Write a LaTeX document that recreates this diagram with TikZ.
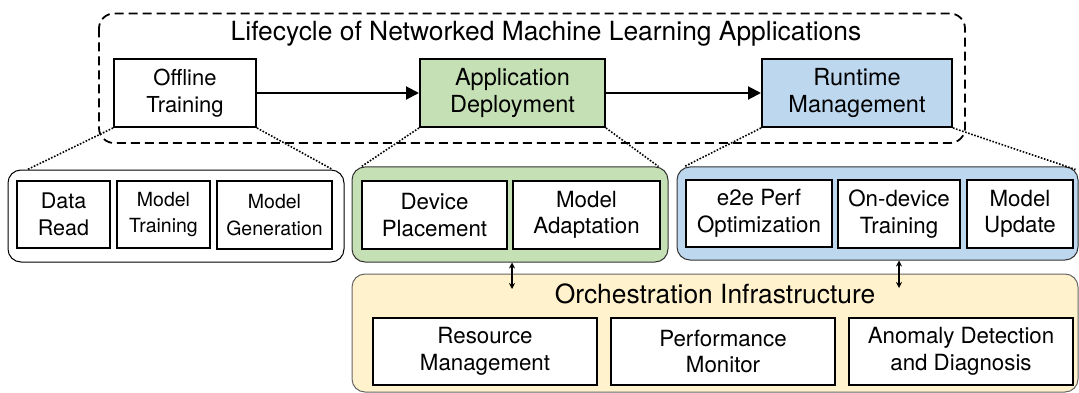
\documentclass[tikz,border=0pt]{standalone}
\usepackage{fontspec}
\setmainfont{TeX Gyre Heros}
\usetikzlibrary{calc,arrows.meta}
\definecolor{gfill}{HTML}{C5E0B4}
\definecolor{bfill}{HTML}{BDD7EE}
\definecolor{yfill}{HTML}{FFF2CC}
\tikzset{
  topbox/.style={draw=black, line width=2pt, align=center, inner sep=0pt},
  innerbox/.style={draw=black, line width=2.4pt, fill=white, align=center, inner sep=0pt},
  container/.style={draw=black!80, line width=1pt, rounded corners=13pt},
  dotline/.style={line width=1.6pt, dash pattern=on 1.6pt off 1.6pt},
  mainarrow/.style={line width=2pt, -{Triangle[length=13pt,width=13pt]}},
  duarrow/.style={line width=1.8pt, {Stealth[length=6pt,width=6pt]}-{Stealth[length=6pt,width=6pt]}},
  fa/.style={font=\fontsize{22.3}{26.5}\selectfont},
  fb/.style={font=\fontsize{19.5}{26.5}\selectfont},
  fc/.style={font=\fontsize{21.5}{26.7}\selectfont},
  ft/.style={font=\fontsize{23.5}{26.5}\selectfont},
  fh/.style={font=\fontsize{26.4}{30}\selectfont},
}
\begin{document}
\begin{tikzpicture}[x=1pt,y=-1pt]
\useasboundingbox (0,0) rectangle (1079,393);
% outer dashed lifecycle box
\draw[line width=1.8pt, dash pattern=on 9pt off 5pt, rounded corners=15pt] (99,13.5) rectangle (965,143);
\node[fh, anchor=base] (title) at (546,41) {Lifecycle of Networked Machine Learning Applications};
% top stage boxes
\node[topbox, font=\fontsize{22}{27}\selectfont, minimum width=142pt, minimum height=68pt] (offline) at (185,93) {Offline\\Training};
\node[topbox, ft, fill=gfill, minimum width=185pt, minimum height=68pt] (app) at (512.5,93) {Application\\Deployment};
\node[topbox, ft, fill=bfill, minimum width=190pt, minimum height=68pt] (runtime) at (857,93) {Runtime\\Management};
\draw[mainarrow] (offline.east) -- (app.west);
\draw[mainarrow] (app.east) -- (runtime.west);
% containers
\node[container, fill=white, draw=black, minimum width=336pt, minimum height=92pt, inner sep=0pt] (leftc) at (176,216) {};
\node[container, fill=gfill, minimum width=316pt, minimum height=95pt, inner sep=0pt] (greenc) at (510,214.5) {};
\node[container, fill=bfill, minimum width=401pt, minimum height=93pt, inner sep=0pt] (bluec) at (877.5,213.5) {};
\node[container, fill=yfill, draw=black!60, minimum width=726pt, minimum height=118pt, inner sep=0pt] (orch) at (715,333) {};
\node[fh, anchor=base] (orchtitle) at (715,303) {Orchestration Infrastructure};
% inner boxes: offline
\node[innerbox, fc, minimum width=93pt, minimum height=67pt] (dr) at (63.5,214.5) {Data\\Read};
\node[innerbox, fb, minimum width=93pt, minimum height=67pt] (mt) at (163.5,214.5) {Model\\Training};
\node[innerbox, fb, minimum width=115pt, minimum height=68pt] (mg) at (274.5,215) {Model\\Generation};
% inner boxes: deployment
\node[innerbox, fa, minimum width=145pt, minimum height=68pt] (dp) at (434.5,215) {Device\\Placement};
\node[innerbox, fa, minimum width=147pt, minimum height=68pt] (ma) at (586.5,215) {Model\\Adaptation};
% inner boxes: runtime
\node[innerbox, fa, minimum width=146pt, minimum height=67pt] (e2e) at (759,213.5) {e2e Perf\\Optimization};
\node[innerbox, fa, minimum width=122pt, minimum height=68pt] (odt) at (899,214) {On-device\\Training};
\node[innerbox, fa, minimum width=106pt, minimum height=68pt] (mu) at (1020,214) {Model\\Update};
% inner boxes: orchestration
\node[innerbox, fa, minimum width=224pt, minimum height=67pt] (rm) at (485,351.5) {Resource\\Management};
\node[innerbox, fa, minimum width=224pt, minimum height=67pt] (pm) at (723,351.5) {Performance\\Monitor};
\node[innerbox, fa, minimum width=224pt, minimum height=67pt] (ad) at (961,351.5) {Anomaly Detection\\and Diagnosis};
% dotted zoom lines
\draw[dotline] (offline.south west) -- ($(leftc.north west)+(20,0)$);
\draw[dotline] (offline.south east) -- ($(leftc.north east)+(-12,0)$);
\draw[dotline] (app.south west) -- ($(greenc.north west)+(10,0)$);
\draw[dotline] (app.south east) -- ($(greenc.north east)+(-10,0)$);
\draw[dotline] (runtime.south west) -- ($(bluec.north west)+(8,0)$);
\draw[dotline] (runtime.south east) -- ($(bluec.north east)+(-3,3)$);
% double arrows
\coordinate (d1) at (512,289);
\coordinate (d2) at (899,288);
\draw[duarrow] (greenc.south -| d1) -- (d1);
\draw[duarrow] (bluec.south -| d2) -- (d2);
\end{tikzpicture}
\end{document}
